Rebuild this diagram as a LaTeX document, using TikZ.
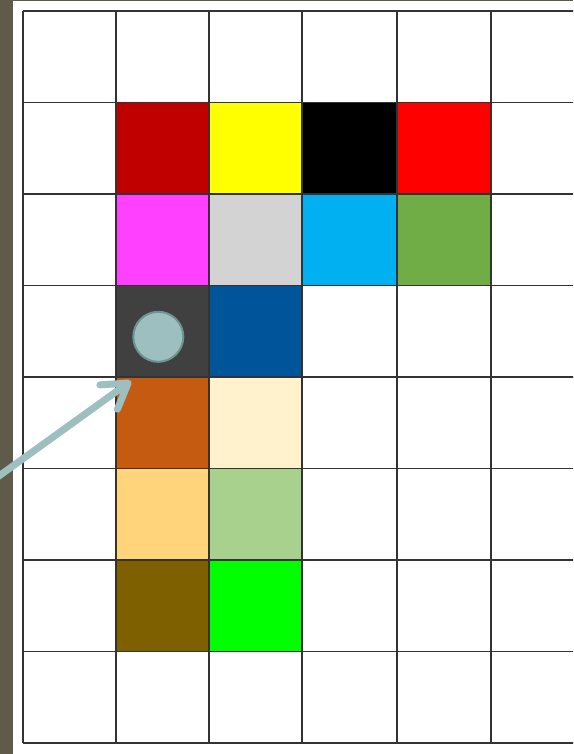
\documentclass[tikz,border=0pt]{standalone}
\usetikzlibrary{arrows.meta}
\definecolor{strip}{HTML}{5F5A4A}
\definecolor{gridline}{HTML}{333333}
\definecolor{teal}{HTML}{9DBFBF}
\definecolor{tealdark}{HTML}{6E9392}
\definecolor{cA}{HTML}{C00000}
\definecolor{cB}{HTML}{FFFF00}
\definecolor{cC}{HTML}{000000}
\definecolor{cD}{HTML}{FF0000}
\definecolor{cE}{HTML}{FF40FF}
\definecolor{cF}{HTML}{D3D3D3}
\definecolor{cG}{HTML}{00B0F0}
\definecolor{cH}{HTML}{70AD47}
\definecolor{cI}{HTML}{404040}
\definecolor{cJ}{HTML}{00559A}
\definecolor{cK}{HTML}{C55A11}
\definecolor{cL}{HTML}{FFF2CC}
\definecolor{cM}{HTML}{FFD47A}
\definecolor{cN}{HTML}{A9D18E}
\definecolor{cO}{HTML}{7F6000}
\definecolor{cP}{HTML}{00FF00}
\tikzset{
  cellbox/.style={fill=#1, draw=none},
  gridstroke/.style={draw=gridline, line width=1.3pt},
  tokenstyle/.style={circle, fill=teal, draw=tealdark, line width=2pt, minimum size=50pt, inner sep=0pt},
  pointer/.style={draw=teal, line width=7pt, line cap=round,
    -{Straight Barb[length=24pt,width=30pt,line cap=round,line join=round]}}
}
\begin{document}
\begin{tikzpicture}[x=1pt,y=-1pt]
\useasboundingbox (0,0) rectangle (573,754);
\clip (0,0) rectangle (573,754);
\fill[white] (0,0) rectangle (573,754);
% column and row edges
\def\xs{{23,116,209,302,397,491,585}}
\def\ys{{11,102.5,194,285.5,377,468.5,560,651.5,743}}
\foreach \c/\r/\col in {1/1/cA,2/1/cB,3/1/cC,4/1/cD,
                        1/2/cE,2/2/cF,3/2/cG,4/2/cH,
                        1/3/cI,2/3/cJ,
                        1/4/cK,2/4/cL,
                        1/5/cM,2/5/cN,
                        1/6/cO,2/6/cP}{
  \pgfmathsetmacro{\xa}{\xs[\c]}
  \pgfmathsetmacro{\xb}{\xs[\c+1]}
  \pgfmathsetmacro{\ya}{\ys[\r]}
  \pgfmathsetmacro{\yb}{\ys[\r+1]}
  \fill[cellbox=\col] (\xa,\ya) rectangle (\xb,\yb);
}
% grid lines
\foreach \i in {0,...,6}{
  \pgfmathsetmacro{\xa}{\xs[\i]}
  \draw[gridstroke] (\xa,11) -- (\xa,743);
}
\foreach \j in {0,...,8}{
  \pgfmathsetmacro{\ya}{\ys[\j]}
  \draw[gridstroke] (23,\ya) -- (600,\ya);
}
% left strip and top edge
\fill[strip] (0,0) rectangle (12.5,754);
\fill[strip] (0,0) rectangle (573,1);
% token
\node[tokenstyle] (token) at (158.3,336.8) {};
% arrow
\coordinate (arrowstart) at (-8,481);
\coordinate (arrowtip) at (131,381);
\draw[pointer] (arrowstart) -- (arrowtip);
\end{tikzpicture}
\end{document}
